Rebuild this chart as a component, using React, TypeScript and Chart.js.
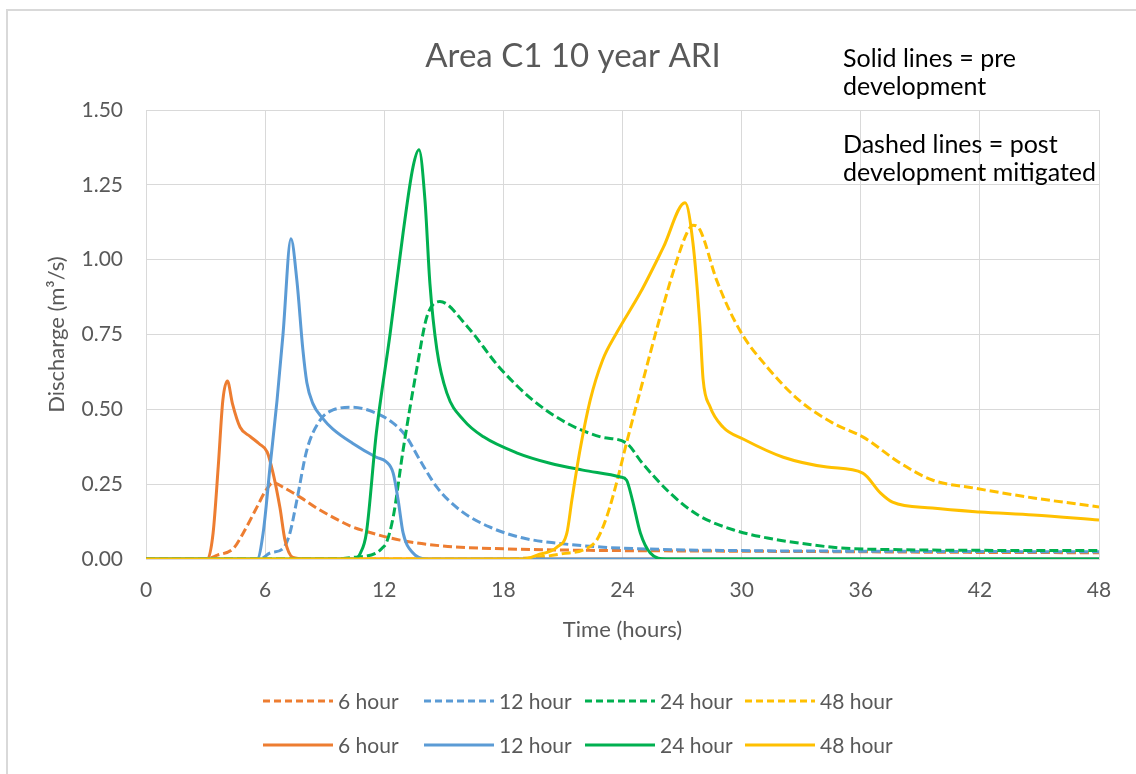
import { useEffect, useRef } from 'react';
import { Chart, registerables } from 'chart.js';

Chart.register(...registerables);

// ---------- data ----------
const chartTitle = 'Area C1 10 year ARI';
const noteLines = ['Solid lines = pre', 'development', 'Dashed lines = post', 'development mitigated'];
const xTitle = 'Time (hours)';
const yTitle = 'Discharge (m³/s)';
const seriesNames = ['6 hour', '12 hour', '24 hour', '48 hour'];

const post6T = [0, 3.0, 3.6, 4.4, 4.9, 5.6, 6.0, 6.4, 6.9, 7.8, 8.6, 9.4, 10.3, 11.2, 12.8, 15.2, 18, 21, 24, 30, 36, 42, 48];
const post6V = [0, 0, 0.013, 0.035, 0.087, 0.175, 0.225, 0.255, 0.24, 0.205, 0.17, 0.14, 0.11, 0.09, 0.063, 0.042, 0.034, 0.03, 0.028, 0.026, 0.024, 0.022, 0.021];

const pre6T = [0, 3.1, 3.38, 3.64, 3.87, 4.1, 4.35, 4.74, 5.24, 5.7, 6.1, 6.4, 6.75, 7.0, 7.4, 8.0, 48];
const pre6V = [0, 0, 0.087, 0.31, 0.53, 0.595, 0.52, 0.44, 0.41, 0.385, 0.358, 0.287, 0.17, 0.063, 0.005, 0, 0];

const post12T = [0, 5.75, 6.25, 6.9, 7.25, 7.6, 8.1, 8.77, 9.42, 10.4, 11.6, 12.45, 13.1, 13.8, 14.65, 15.8, 17.3, 19, 20.7, 22.9, 26, 30, 36, 42, 48];
const post12V = [0, 0, 0.02, 0.035, 0.087, 0.197, 0.364, 0.464, 0.498, 0.507, 0.487, 0.454, 0.41, 0.33, 0.24, 0.164, 0.107, 0.07, 0.053, 0.04, 0.032, 0.028, 0.026, 0.025, 0.024];

const pre12T = [0, 5.6, 5.9, 6.25, 6.6, 6.9, 7.3, 7.6, 7.9, 8.1, 8.4, 8.9, 9.4, 10.4, 11.6, 12.1, 12.45, 12.7, 12.95, 13.45, 14.1, 48];
const pre12V = [0, 0, 0.087, 0.31, 0.53, 0.75, 1.07, 0.93, 0.7, 0.59, 0.52, 0.47, 0.435, 0.387, 0.34, 0.325, 0.287, 0.197, 0.087, 0.02, 0, 0];

const post24T = [0, 9.3, 10.4, 11.6, 11.95, 12.1, 12.45, 12.95, 13.65, 14.15, 14.8, 16.2, 17.8, 19.5, 21.2, 22.9, 24.2, 25, 26.4, 27.8, 29.6, 31.3, 32.9, 35, 38, 42, 48];
const post24V = [0, 0, 0.005, 0.02, 0.04, 0.053, 0.14, 0.364, 0.64, 0.81, 0.86, 0.775, 0.64, 0.53, 0.454, 0.408, 0.387, 0.32, 0.22, 0.147, 0.097, 0.07, 0.053, 0.037, 0.031, 0.029, 0.028];

const pre24T = [0, 10.5, 10.8, 11.1, 11.6, 12.3, 12.95, 13.45, 13.75, 14.05, 14.3, 14.65, 15.15, 16, 17, 18.7, 20.35, 22, 23.9, 24.2, 24.5, 24.9, 25.4, 26.2, 48];
const pre24V = [0, 0, 0.02, 0.087, 0.42, 0.755, 1.09, 1.31, 1.367, 1.2, 0.92, 0.7, 0.555, 0.464, 0.408, 0.354, 0.32, 0.297, 0.274, 0.264, 0.197, 0.087, 0.02, 0, 0];

const post48T = [0, 18, 20, 21, 22, 22.7, 23.2, 23.7, 24.2, 25, 25.9, 26.75, 27.25, 27.55, 27.9, 28.75, 29.9, 31.3, 32.9, 34.6, 36.1, 38, 39.6, 41.7, 44.7, 48];
const post48V = [0, 0, 0.008, 0.018, 0.03, 0.063, 0.14, 0.254, 0.387, 0.588, 0.81, 1.0, 1.09, 1.115, 1.1, 0.93, 0.765, 0.64, 0.53, 0.454, 0.408, 0.32, 0.264, 0.237, 0.204, 0.174];

const pre48T = [0, 19, 19.7, 20.7, 21.2, 21.45, 21.86, 22.37, 23.0, 23.7, 24.9, 26.05, 27.15, 27.55, 27.9, 28.06, 28.4, 29.07, 30.1, 32.1, 34.3, 36.1, 37, 37.6, 39.6, 42, 44.7, 48];
const pre48V = [0, 0, 0.013, 0.04, 0.087, 0.197, 0.364, 0.53, 0.665, 0.755, 0.89, 1.04, 1.19, 1.055, 0.78, 0.6, 0.51, 0.44, 0.4, 0.34, 0.307, 0.287, 0.22, 0.19, 0.17, 0.157, 0.147, 0.13];

const xTicks = [0, 6, 12, 18, 24, 30, 36, 42, 48];
const yTicks = [0, 0.25, 0.5, 0.75, 1.0, 1.25, 1.5];

// ---------- styles ----------
const COLORS = ['#ED7D31', '#5B9BD5', '#00B050', '#FFC000'];
const FONT = 'Lato, "Open Sans", sans-serif';
const TEXT_GRAY = '#595959';
const GRID = '#d9d9d9';
const DASH = [9, 4];

const toPts = (t: number[], v: number[]) => t.map((x, i) => ({ x, y: v[i] }));

const postSeries = [toPts(post6T, post6V), toPts(post12T, post12V), toPts(post24T, post24V), toPts(post48T, post48V)];
const preSeries = [toPts(pre6T, pre6V), toPts(pre12T, pre12V), toPts(pre24T, pre24V), toPts(pre48T, pre48V)];

const decorPlugin = {
  id: 'decor',
  beforeDraw(chart: any) {
    const ctx = chart.ctx;
    ctx.save();
    ctx.fillStyle = '#ffffff';
    ctx.fillRect(0, 0, chart.width, chart.height);
    ctx.restore();
  },
  afterDraw(chart: any) {
    const ctx = chart.ctx;
    ctx.save();
    // frame
    ctx.strokeStyle = GRID;
    ctx.lineWidth = 2;
    ctx.beginPath();
    ctx.moveTo(7, chart.height + 5);
    ctx.lineTo(7, 10);
    ctx.lineTo(chart.width + 5, 10);
    ctx.stroke();

    // title
    ctx.fillStyle = TEXT_GRAY;
    ctx.font = `33px ${FONT}`;
    ctx.textAlign = 'center';
    ctx.textBaseline = 'alphabetic';
    ctx.fillText(chartTitle, 573, 67);

    // notes
    ctx.fillStyle = '#000000';
    ctx.font = `25px ${FONT}`;
    ctx.textAlign = 'left';
    const noteY = [67, 95, 153, 181];
    noteLines.forEach((s, i) => ctx.fillText(s, 843, noteY[i]));

    // legend
    const colX = [263, 424, 585, 745];
    const rowY = [701, 745];
    ctx.font = `21px ${FONT}`;
    ctx.textBaseline = 'middle';
    for (let r = 0; r < 2; r++) {
      for (let c = 0; c < 4; c++) {
        const x0 = colX[c];
        const y = rowY[r];
        ctx.strokeStyle = COLORS[c];
        ctx.lineWidth = 3;
        ctx.setLineDash(r === 0 ? [7, 4] : []);
        ctx.beginPath();
        ctx.moveTo(x0, y);
        ctx.lineTo(x0 + 70, y);
        ctx.stroke();
        ctx.setLineDash([]);
        ctx.fillStyle = TEXT_GRAY;
        ctx.fillText(seriesNames[c], x0 + 75, y + 1);
      }
    }
    ctx.restore();
  },
};

export default function App() {
  const ref = useRef<HTMLCanvasElement | null>(null);

  useEffect(() => {
    if (!ref.current) return;
    const datasets: any[] = [];
    postSeries.forEach((data, i) => {
      datasets.push({
        label: seriesNames[i],
        data,
        borderColor: COLORS[i],
        backgroundColor: COLORS[i],
        borderWidth: 3,
        borderDash: DASH,
        pointRadius: 0,
        cubicInterpolationMode: 'monotone',
        fill: false,
        order: 10 - i,
      });
    });
    preSeries.forEach((data, i) => {
      datasets.push({
        label: seriesNames[i],
        data,
        borderColor: COLORS[i],
        backgroundColor: COLORS[i],
        borderWidth: 3,
        pointRadius: 0,
        cubicInterpolationMode: 'monotone',
        fill: false,
        order: 5 - i,
      });
    });

    const chart = new Chart(ref.current, {
      type: 'line',
      data: { datasets },
      plugins: [decorPlugin],
      options: {
        responsive: false,
        animation: false,
        devicePixelRatio: 1,
        layout: { padding: { left: 0, top: 110, right: 37, bottom: 125 } },
        plugins: {
          legend: { display: false },
          title: { display: false },
          tooltip: { enabled: false },
        },
        scales: {
          x: {
            type: 'linear',
            min: 0,
            max: 48,
            afterFit: (s: any) => { s.height = 90; },
            afterBuildTicks: (s: any) => { s.ticks = xTicks.map((v) => ({ value: v })); },
            ticks: {
              color: TEXT_GRAY,
              font: { family: FONT, size: 21 },
              padding: 19,
              maxRotation: 0,
              callback: (v: any) => String(v),
            },
            grid: { color: GRID, lineWidth: 1, drawTicks: false },
            border: { color: GRID, width: 1 },
            title: {
              display: true,
              text: xTitle,
              color: TEXT_GRAY,
              font: { family: FONT, size: 22 },
              padding: { top: 0, bottom: 6 },
            },
          },
          y: {
            type: 'linear',
            min: 0,
            max: 1.5,
            afterFit: (s: any) => { s.width = 146; },
            afterBuildTicks: (s: any) => { s.ticks = yTicks.map((v) => ({ value: v })); },
            ticks: {
              color: TEXT_GRAY,
              font: { family: FONT, size: 21 },
              padding: 23,
              callback: (v: any) => Number(v).toFixed(2),
            },
            grid: { color: GRID, lineWidth: 1, drawTicks: false },
            border: { color: GRID, width: 1 },
            title: {
              display: true,
              text: yTitle,
              color: TEXT_GRAY,
              font: { family: FONT, size: 22 },
              padding: { top: 44, bottom: 0 },
            },
          },
        },
      },
    });
    return () => chart.destroy();
  }, []);

  return (
    <div style={{ position: 'absolute', left: 0, top: 0, width: 1136, height: 774 }}>
      <canvas ref={ref} width={1136} height={774} style={{ display: 'block' }} />
    </div>
  );
}
